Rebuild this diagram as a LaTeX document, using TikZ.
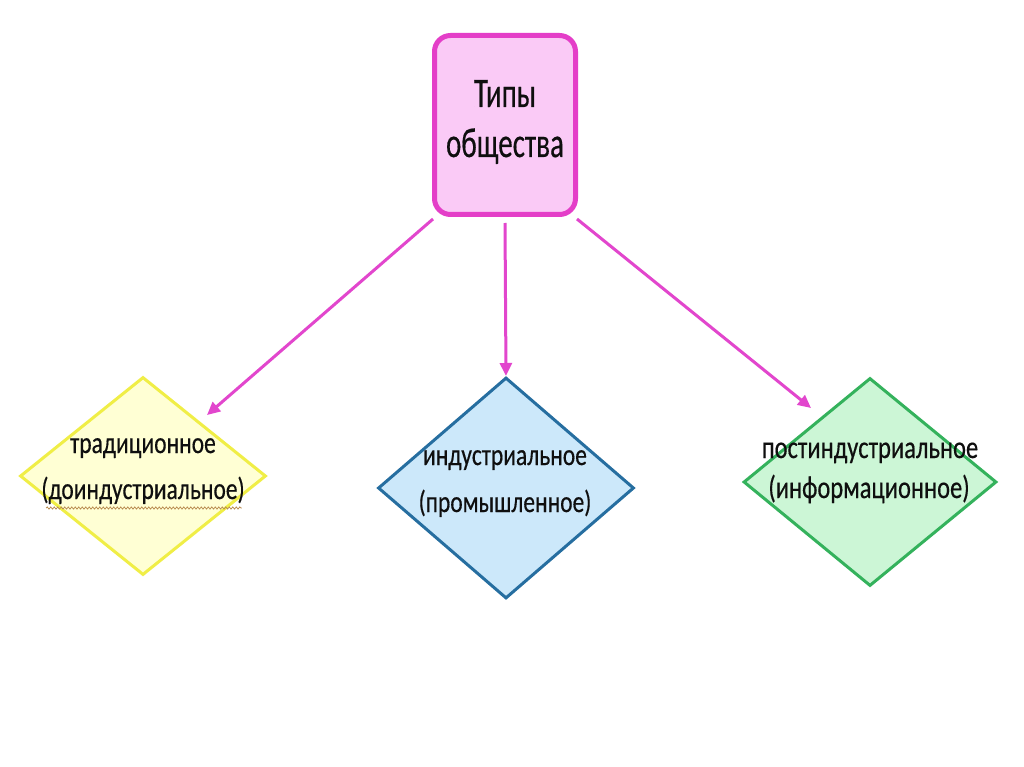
\documentclass[tikz,border=0pt]{standalone}
\usepackage{fontspec}
\setmainfont{Carlito}
\newfontfamily\thickfont{Carlito}[FakeBold=0.5]
\usetikzlibrary{shapes.geometric,arrows.meta,decorations.pathmorphing}
\definecolor{magB}{RGB}{228,62,200}
\definecolor{magF}{RGB}{250,202,246}
\definecolor{arrC}{RGB}{226,70,205}
\definecolor{yelB}{RGB}{240,238,70}
\definecolor{yelF}{RGB}{255,255,212}
\definecolor{bluB}{RGB}{38,110,160}
\definecolor{bluF}{RGB}{204,232,250}
\definecolor{grnB}{RGB}{52,178,92}
\definecolor{grnF}{RGB}{204,246,214}
\definecolor{txtC}{RGB}{15,15,15}
\definecolor{squig}{RGB}{185,140,80}
\newcommand{\tall}[2]{\scalebox{1}[#1]{#2}}
\begin{document}
\begin{tikzpicture}[x=1pt,y=-1pt,
  topbox/.style={draw=magB, fill=magF, line width=5pt, rounded corners=16pt,
    minimum width=141pt, minimum height=179pt, inner sep=0pt},
  diam/.style={diamond, inner sep=0pt, line width=3pt},
  lbl/.style={anchor=base, text=txtC, inner sep=0pt, font=\thickfont\fontsize{23.5}{26}\selectfont},
  glbl/.style={anchor=base, text=txtC, inner sep=0pt, font=\thickfont\fontsize{24.5}{26}\selectfont},
  toplbl/.style={anchor=base, text=txtC, inner sep=0pt, font=\thickfont\fontsize{29}{36}\selectfont},
  conn/.style={draw=arrC, line width=3pt, -{Triangle[length=13pt,width=12pt]}}
]
\useasboundingbox (0,0) rectangle (1024,767);
\fill[white] (0,0) rectangle (1024,767);

% top box
\node[topbox] (top) at (505,125) {};
\node[toplbl] (topA) at (505,107) {\tall{1.45}{Типы}};
\node[toplbl] (topB) at (505,157) {\tall{1.45}{общества}};

% diamonds
\node[diam, draw=yelB, fill=yelF, minimum width=246pt, minimum height=198pt] (trad) at (143,476) {};
\node[diam, draw=bluB, fill=bluF, minimum width=256pt, minimum height=221pt] (ind) at (506,488) {};
\node[diam, draw=grnB, fill=grnF, minimum width=253pt, minimum height=208pt] (post) at (870,482) {};

% labels
\node[lbl] (tradA) at (143,453) {\tall{1.3}{традиционное}};
\node[lbl] (tradB) at (143,499) {\tall{1.3}{(доиндустриальное)}};
\draw[squig, line width=0.8pt, decorate, decoration={snake, amplitude=1pt, segment length=3.5pt}]
  ([xshift=5pt,yshift=-9pt]tradB.base west) -- ([xshift=-3pt,yshift=-9pt]tradB.base east);

\node[lbl] (indA) at (505,465) {\tall{1.3}{индустриальное}};
\node[lbl] (indB) at (505,512) {\tall{1.3}{(промышленное)}};

\node[glbl] (postA) at (870,458) {\tall{1.3}{постиндустриальное}};
\node[glbl] (postB) at (869,498) {\tall{1.3}{(информационное)}};

% arrow targets
\coordinate (tipL) at (207,415);
\coordinate (tipR) at (811,408);

% connectors
\draw[conn] ([xshift=1pt,yshift=-2pt]top.south west) -- (tipL);
\draw[conn] ([yshift=-6pt]top.south) -- (ind.north);
\draw[conn] ([xshift=-1pt,yshift=-2pt]top.south east) -- (tipR);
\end{tikzpicture}
\end{document}
